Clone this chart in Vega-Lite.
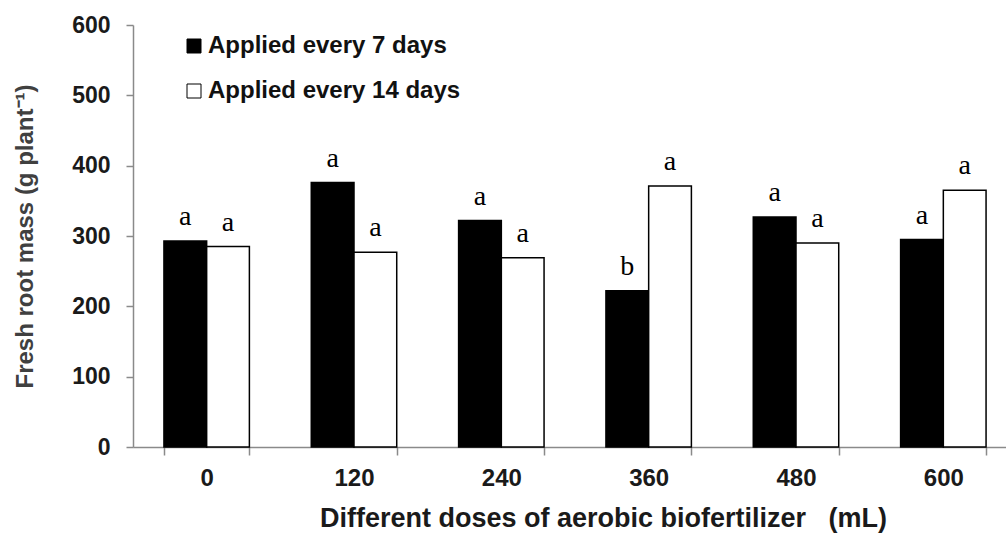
{
  "$schema": "https://vega.github.io/schema/vega-lite/v6.json",
  "width": 873,
  "height": 422,
  "autosize": {"type": "none"},
  "padding": {"left": 133, "top": 25, "right": 0, "bottom": 86},
  "background": "white",
  "data": {
    "values": [
      {"dose": "0", "series": "Applied every 7 days", "mass": 293, "sig": "a"},
      {"dose": "0", "series": "Applied every 14 days", "mass": 285, "sig": "a"},
      {"dose": "120", "series": "Applied every 7 days", "mass": 376, "sig": "a"},
      {"dose": "120", "series": "Applied every 14 days", "mass": 277, "sig": "a"},
      {"dose": "240", "series": "Applied every 7 days", "mass": 322, "sig": "a"},
      {"dose": "240", "series": "Applied every 14 days", "mass": 269, "sig": "a"},
      {"dose": "360", "series": "Applied every 7 days", "mass": 222, "sig": "b"},
      {"dose": "360", "series": "Applied every 14 days", "mass": 371, "sig": "a"},
      {"dose": "480", "series": "Applied every 7 days", "mass": 327, "sig": "a"},
      {"dose": "480", "series": "Applied every 14 days", "mass": 290, "sig": "a"},
      {"dose": "600", "series": "Applied every 7 days", "mass": 295, "sig": "a"},
      {"dose": "600", "series": "Applied every 14 days", "mass": 365, "sig": "a"}
    ]
  },
  "encoding": {
    "x": {
      "field": "dose",
      "type": "nominal",
      "sort": ["0", "120", "240", "360", "480", "600"],
      "scale": {"range": [0, 884], "paddingInner": 0.42, "paddingOuter": 0.21},
      "axis": {
        "title": "Different doses of aerobic biofertilizer\u00a0\u00a0 (mL)",
        "labelAngle": 0,
        "tickBand": "extent",
        "tickSize": 8,
        "labelPadding": 11,
        "labelFont": "Liberation Sans",
        "labelFontWeight": "bold",
        "labelFontSize": 24,
        "labelColor": "#1a1a1a",
        "titleFont": "Liberation Sans",
        "titleFontWeight": "bold",
        "titleFontSize": 27,
        "titleColor": "#1a1a1a",
        "titlePadding": 15,
        "titleX": 470,
        "titleAnchor": "middle",
        "domainColor": "#8a8a8a",
        "domainWidth": 1.5,
        "tickColor": "#8a8a8a",
        "tickWidth": 1.5
      }
    },
    "xOffset": {
      "field": "series",
      "type": "nominal",
      "sort": ["Applied every 7 days", "Applied every 14 days"],
      "scale": {"paddingInner": 0, "paddingOuter": 0}
    },
    "y": {
      "field": "mass",
      "type": "quantitative",
      "scale": {"domain": [0, 600], "nice": false},
      "axis": {
        "title": "Fresh root mass (g plant\u207b\u00b9)",
        "values": [0, 100, 200, 300, 400, 500, 600],
        "grid": false,
        "tickSize": 7,
        "labelPadding": 16,
        "labelFont": "Liberation Sans",
        "labelFontWeight": "bold",
        "labelFontSize": 23,
        "labelColor": "#1a1a1a",
        "titleFont": "Liberation Sans",
        "titleFontWeight": "bold",
        "titleFontSize": 24,
        "titleColor": "#404040",
        "titlePadding": 34,
        "domainColor": "#8a8a8a",
        "domainWidth": 1.5,
        "tickColor": "#8a8a8a",
        "tickWidth": 1.5
      }
    }
  },
  "layer": [
    {
      "mark": {"type": "bar", "stroke": "black", "strokeWidth": 1.5},
      "encoding": {
        "fill": {
          "field": "series",
          "type": "nominal",
          "scale": {"domain": ["Applied every 7 days", "Applied every 14 days"], "range": ["black", "white"]},
          "legend": {
            "title": null,
            "orient": "none",
            "legendX": 49,
            "legendY": 9,
            "symbolType": "square",
            "symbolSize": 196,
            "symbolStrokeColor": "black",
            "symbolStrokeWidth": 1,
            "labelFont": "Liberation Sans",
            "labelFontWeight": "bold",
            "labelFontSize": 24,
            "labelColor": "#111111",
            "labelOffset": 2,
            "rowPadding": 21,
            "labelLimit": 400
          }
        }
      }
    },
    {
      "mark": {"type": "text", "font": "Liberation Serif", "fontSize": 28, "dy": -16, "baseline": "alphabetic", "color": "black"},
      "encoding": {
        "text": {"field": "sig"}
      }
    }
  ],
  "config": {"view": {"stroke": null}}
}
